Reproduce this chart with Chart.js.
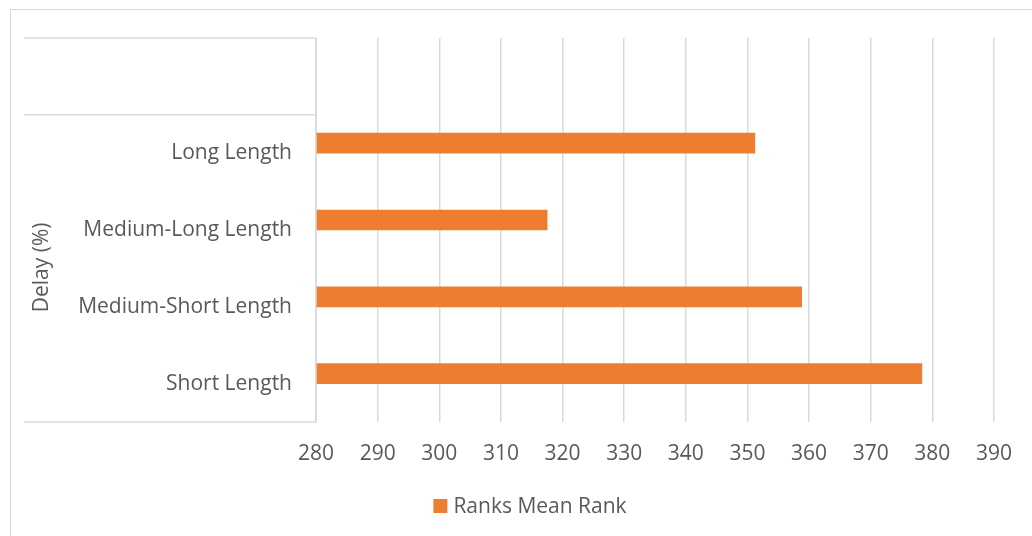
<!DOCTYPE html>
<html>
<head>
<meta charset="utf-8">
<script src="https://cdn.jsdelivr.net/npm/chart.js@4"></script>
<style>
  html, body { margin: 0; padding: 0; background: #fff; }
  #wrap { width: 1032px; height: 536px; position: relative; }
</style>
</head>
<body>
<div id="wrap"><canvas id="barChart" width="1032" height="536"></canvas></div>
<script>
// data (top row is an empty category)
const categories = ['', 'Long Length', 'Medium-Long Length', 'Medium-Short Length', 'Short Length'];
const meanRank = [null, 351.2, 317.5, 358.8, 378.3];
const emptySeries = [null, null, null, null, null];
const groupLabel = 'Delay (%)';
const seriesName = 'Ranks Mean Rank';
const xMin = 280, xMax = 390, xStep = 10;

const GRID = '#d9d9d9';
const TEXT = '#595959';
const BAR = '#ed7d31';
const FONT = "'Open Sans', sans-serif";

/* frame, multi-level category lines and legend */
const framePlugin = {
    id: 'frame',
    afterDraw(chart) {
        const ctx = chart.ctx;
        const area = chart.chartArea;
        const y = chart.scales.y;
        const left = chart.options.layout.padding.left;
        const split = (y.getPixelForTick(0) + y.getPixelForTick(1)) / 2;

        ctx.save();
        // outer border
        ctx.strokeStyle = GRID;
        ctx.lineWidth = 1;
        ctx.strokeRect(10.5, 9.5, 1030, 540);

        ctx.lineWidth = 1.5;
        ctx.beginPath();
        [area.top, split, area.bottom].forEach(py => {
            ctx.moveTo(left, py);
            ctx.lineTo(area.left, py);
        });
        ctx.moveTo(area.left, area.top);
        ctx.lineTo(area.left, area.bottom);
        ctx.stroke();

        // legend
        ctx.font = '21px ' + FONT;
        ctx.textBaseline = 'middle';
        const ds = chart.data.datasets[0];
        const tw = ctx.measureText(ds.label).width;
        const lx = 530 - (14 + 6 + tw) / 2;
        ctx.fillStyle = ds.backgroundColor;
        ctx.fillRect(lx, 499, 14, 14);
        ctx.fillStyle = TEXT;
        ctx.textAlign = 'left';
        ctx.fillText(ds.label, lx + 20, 507);

        // outer group label
        ctx.translate(42, (split + area.bottom) / 2 - 1);
        ctx.rotate(-Math.PI / 2);
        ctx.textAlign = 'center';
        ctx.fillText(groupLabel, 0, 0);
        ctx.restore();
    }
};

const ctx = document.getElementById('barChart').getContext('2d');

new Chart(ctx, {
    type: 'bar',
    data: {
        labels: categories,
        datasets: [{
            label: seriesName,
            data: meanRank,
            backgroundColor: BAR,
            borderWidth: 0,
            barThickness: 20
        }, {
            label: '',
            data: emptySeries,
            backgroundColor: '#a5a5a5',
            barThickness: 20
        }]
    },
    options: {
        indexAxis: 'y',
        responsive: false,
        animation: false,
        layout: { padding: { top: 38, right: 38, left: 24, bottom: 0 } },
        scales: {
            x: {
                min: xMin,
                max: xMax,
                ticks: { stepSize: xStep, color: TEXT, font: { family: FONT, size: 21 }, padding: 19 },
                grid: { color: GRID, lineWidth: 1.5, drawTicks: false },
                border: { display: false },
                afterFit(scale) { scale.height = 114; }
            },
            y: {
                ticks: { color: TEXT, font: { family: FONT, size: 21 }, padding: 16 },
                grid: { display: false },
                border: { display: false },
                afterFit(scale) { scale.width = 292; }
            }
        },
        plugins: {
            legend: { display: false },
            tooltip: { enabled: false }
        }
    },
    plugins: [framePlugin]
});
</script>
</body>
</html>
